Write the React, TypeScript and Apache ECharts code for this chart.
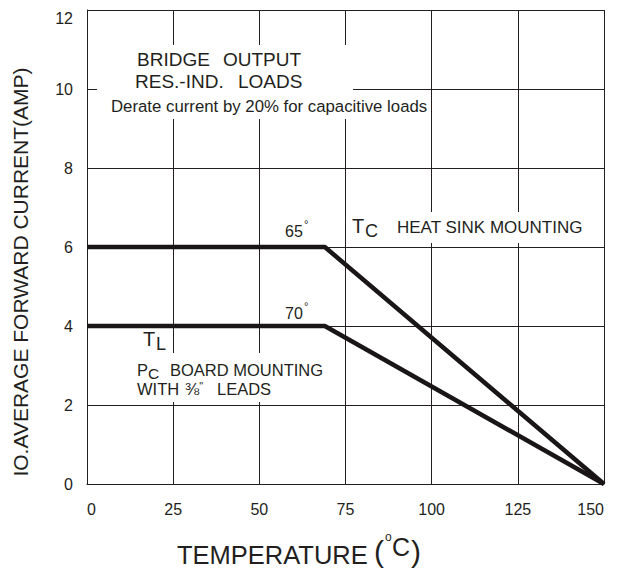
import React, { useEffect, useRef } from "react";
import * as echarts from "echarts";

const temps = [0, 69, 150];
const heatSinkAmps = [6, 6, 0];
const pcBoardAmps = [4, 4, 0];
const xTicks = [0, 25, 50, 75, 100, 125, 150];
const yTicks = [0, 2, 4, 6, 8, 10, 12];

const FONT = "'Liberation Sans', Arial, sans-serif";
const INK = "#231f20";

function txt(text: string, x: number, y: number, size: number, extra: any = {}) {
  return {
    type: "text",
    z: 20,
    silent: true,
    style: {
      text,
      x,
      y,
      fontSize: size,
      fontFamily: FONT,
      fill: INK,
      align: "left",
      verticalAlign: "middle",
      textAlign: "left",
      textVerticalAlign: "middle",
      ...extra,
    },
  };
}

function box(x: number, y: number, w: number, h: number) {
  return {
    type: "rect",
    z: 15,
    silent: true,
    shape: { x, y, width: w, height: h },
    style: { fill: "#ffffff" },
  };
}

export default function App() {
  const ref = useRef<HTMLDivElement>(null);

  useEffect(() => {
    if (!ref.current) return;
    const chart = echarts.init(ref.current, null, { renderer: "svg" });
    const option: any = {
      animation: false,
      backgroundColor: "#ffffff",
      grid: { left: 87, right: 13, top: 10, bottom: 85, containLabel: false },
      xAxis: {
        type: "value",
        min: xTicks[0],
        max: xTicks[xTicks.length - 1],
        interval: 25,
        axisLine: { show: true, lineStyle: { color: INK, width: 1 } },
        axisTick: { show: false },
        splitLine: { show: true, lineStyle: { color: INK, width: 1 } },
        axisLabel: {
          color: INK,
          fontSize: 16,
          fontFamily: FONT,
          margin: 17,
          alignMinLabel: "left",
          alignMaxLabel: "right",
        },
      },
      yAxis: {
        type: "value",
        min: yTicks[0],
        max: yTicks[yTicks.length - 1],
        interval: 2,
        axisLine: { show: true, lineStyle: { color: INK, width: 1 } },
        axisTick: { show: false },
        splitLine: { show: true, lineStyle: { color: INK, width: 1 } },
        axisLabel: {
          color: INK,
          fontSize: 16,
          fontFamily: FONT,
          margin: 14,
          verticalAlignMaxLabel: "top",
        },
      },
      series: [
        {
          name: "Heat sink mounting",
          type: "line",
          data: temps.map((t, i) => [t, heatSinkAmps[i]]),
          symbol: "none",
          lineStyle: { color: "#1a1516", width: 4.5 },
          z: 5,
        },
        {
          name: "PC board mounting",
          type: "line",
          data: temps.map((t, i) => [t, pcBoardAmps[i]]),
          symbol: "none",
          lineStyle: { color: "#1a1516", width: 4.5 },
          z: 5,
        },
      ],
      graphic: [
        box(97, 45, 256, 50),
        box(105, 95, 326, 24),
        box(390, 212, 200, 31),
        box(130, 353, 196, 49),
        txt("BRIDGE", 137, 59, 19),
        txt("OUTPUT", 223, 59, 19),
        txt("RES.-IND.", 135, 81, 19),
        txt("LOADS", 238, 81, 19),
        txt("Derate current by 20% for capacitive loads", 111, 106, 16.8),
        txt("65", 285, 231, 16),
        txt("°", 304, 224, 11),
        txt("70", 285, 313, 16),
        txt("°", 304, 306, 11),
        txt("T", 352, 226, 20),
        txt("C", 365, 231, 18),
        txt("HEAT SINK MOUNTING", 397, 227, 17),
        txt("T", 143, 339, 20),
        txt("L", 156, 344, 18),
        txt("P", 137, 370, 16.5),
        txt("C", 148, 373, 15.5),
        txt("BOARD MOUNTING", 170, 369.5, 16.5),
        txt("WITH", 137, 389, 16.5),
        txt("{f|⅜}{q|\"}", 185, 389, 17, {
          rich: {
            f: { fontSize: 17, fontFamily: FONT, fill: INK, color: INK },
            q: { fontSize: 11, fontFamily: FONT, fill: INK, color: INK, padding: [0, 0, 6, 0] },
          },
        }),
        txt("LEADS", 217, 389, 16.5),
        txt("TEMPERATURE", 177, 555, 25.5),
        txt("(", 374, 551, 30),
        txt("o", 385, 537, 12),
        txt("C", 392, 547, 25),
        txt(")", 411, 551, 30),
        {
          type: "text",
          z: 20,
          silent: true,
          x: 20,
          y: 272,
          rotation: Math.PI / 2,
          style: {
            text: "IO.AVERAGE FORWARD CURRENT(AMP)",
            x: 0,
            y: 0,
            fontSize: 21,
            fontFamily: FONT,
            fill: INK,
            align: "center",
            verticalAlign: "middle",
            textAlign: "center",
            textVerticalAlign: "middle",
          },
        },
      ],
    };
    chart.setOption(option);
    return () => chart.dispose();
  }, []);

  return (
    <div
      ref={ref}
      style={{ position: "absolute", left: 0, top: 0, width: 617, height: 569 }}
    />
  );
}
